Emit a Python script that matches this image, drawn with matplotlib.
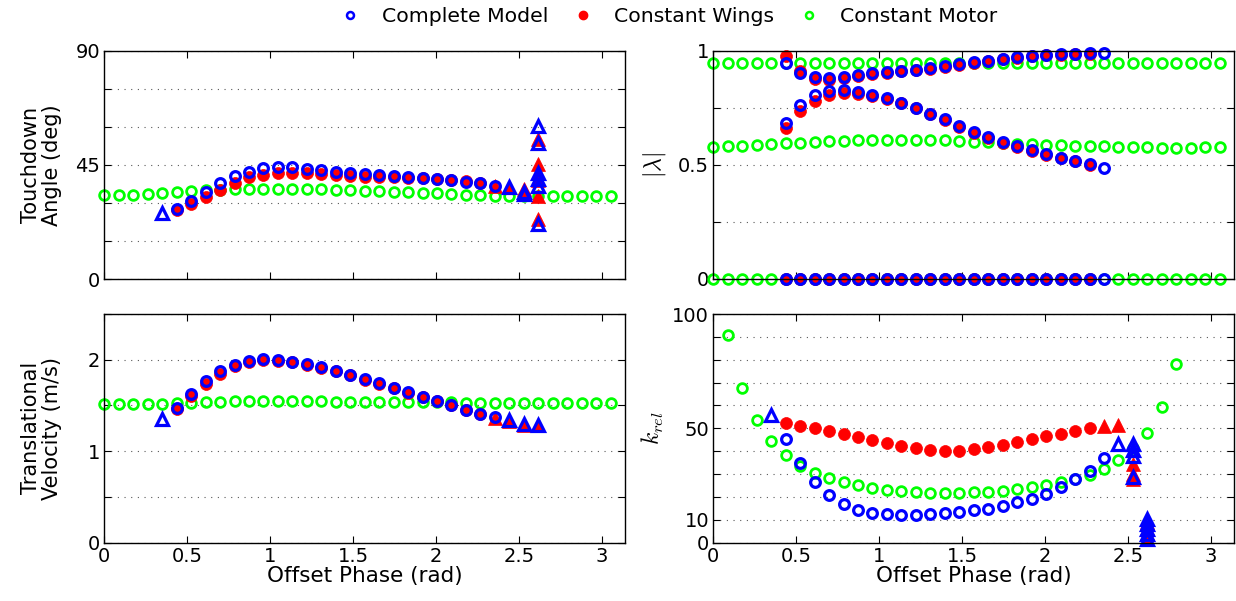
import numpy as np
import matplotlib
matplotlib.use('Agg')
import matplotlib.pyplot as plt
from matplotlib.lines import Line2D

plt.rcParams['font.family'] = ['DejaVu Sans']
plt.rcParams['mathtext.fontset'] = 'cm'

# offset phase grid: index k -> k * pi / 36
step = np.pi / 36

# ---- touchdown angle (deg) ----
green_angle = [33.1, 33.1, 33.3, 33.5, 33.8, 34.2, 34.7, 35.1, 35.2, 35.4, 35.5, 35.5,
               35.6, 35.6, 35.5, 35.4, 35.2, 35.1, 34.8, 34.7, 34.4, 34.2, 33.9, 33.8,
               33.5, 33.3, 33.1, 32.9, 32.7, 32.6, 32.6, 32.6, 32.6, 32.6, 32.7, 32.7]
blue_angle = [27.6, 30.8, 34.2, 37.9, 40.5, 42.4, 43.7, 44.1, 44.1, 43.6, 42.9, 42.1,
              41.7, 41.4, 40.9, 40.5, 40.1, 39.9, 39.6, 39.1, 38.4, 37.8, 36.6]  # k=5..27
blue_angle_tri_k = [4, 28, 29, 29, 30, 30, 30, 30, 30, 30]
blue_angle_tri = [25.9, 36.2, 34.5, 33.6, 60.2, 53.6, 41.7, 39.5, 36.6, 21.7]
red_angle = [27.3, 29.6, 32.5, 35.2, 38.1, 40.1, 41.2, 41.7, 42.0, 41.7, 41.4, 40.9,
             40.5, 40.2, 40.1, 40.1, 40.0, 39.7, 39.4, 39.0, 38.6, 37.9]  # k=5..26
red_angle_tri_k = [27, 28, 29, 29, 30, 30, 30, 30, 30, 30]
red_angle_tri = [36.9, 36.2, 35.5, 34.0, 55.3, 45.5, 42.0, 39.0, 32.9, 23.9]

# ---- |lambda| ----
green_lam_hi = [0.946] * 36
green_lam_mid = [0.578, 0.581, 0.584, 0.587, 0.590, 0.594, 0.597, 0.600, 0.603, 0.606,
                 0.607, 0.609, 0.610, 0.610, 0.610, 0.609, 0.607, 0.604, 0.601, 0.598,
                 0.595, 0.592, 0.590, 0.587, 0.585, 0.584, 0.582, 0.581, 0.580, 0.578,
                 0.577, 0.575, 0.575, 0.575, 0.577, 0.578]
green_lam_lo = [0.0] * 36
blue_lam_hi = [0.946, 0.904, 0.884, 0.879, 0.886, 0.895, 0.902, 0.908, 0.913, 0.917,
               0.924, 0.932, 0.942, 0.949, 0.956, 0.964, 0.971, 0.977, 0.981, 0.984,
               0.986, 0.988, 0.988]  # k=5..27
blue_lam_mid = [0.683, 0.760, 0.807, 0.823, 0.828, 0.818, 0.807, 0.792, 0.771, 0.750,
                0.723, 0.699, 0.669, 0.643, 0.622, 0.600, 0.581, 0.563, 0.546, 0.531,
                0.517, 0.502, 0.486]
blue_lam_lo = [0.0] * 23
red_lam_hi = [0.978, 0.910, 0.876, 0.872, 0.880, 0.889, 0.897, 0.903, 0.909, 0.914,
              0.921, 0.929, 0.939, 0.947, 0.954, 0.962, 0.969, 0.975, 0.980, 0.983,
              0.985, 0.987]  # k=5..26
red_lam_mid = [0.663, 0.735, 0.779, 0.808, 0.815, 0.812, 0.803, 0.789, 0.769, 0.748,
               0.721, 0.695, 0.665, 0.640, 0.617, 0.596, 0.578, 0.561, 0.544, 0.529,
               0.515, 0.500]
red_lam_lo = [0.0] * 22

# ---- translational velocity (m/s) ----
green_vel = [1.52, 1.52, 1.52, 1.52, 1.52, 1.525, 1.53, 1.535, 1.54, 1.545, 1.545, 1.545,
             1.545, 1.545, 1.545, 1.545, 1.54, 1.54, 1.54, 1.54, 1.54, 1.535, 1.535, 1.535,
             1.535, 1.53, 1.53, 1.53, 1.53, 1.53, 1.53, 1.53, 1.53, 1.53, 1.53, 1.53]
blue_vel = [1.473, 1.63, 1.768, 1.878, 1.947, 1.987, 2.005, 1.994, 1.976, 1.951, 1.918,
            1.878, 1.834, 1.787, 1.74, 1.692, 1.645, 1.597, 1.553, 1.506, 1.455, 1.408,
            1.368]  # k=5..27
blue_vel_tri_k = [4, 28, 29, 30]
blue_vel_tri = [1.349, 1.339, 1.295, 1.288]
red_vel = [1.462, 1.601, 1.733, 1.849, 1.935, 1.976, 1.994, 1.99, 1.97, 1.945, 1.913,
           1.873, 1.83, 1.782, 1.735, 1.687, 1.64, 1.592, 1.548, 1.5, 1.45, 1.403]  # k=5..26
red_vel_tri_k = [27, 28, 29, 30]
red_vel_tri = [1.36, 1.335, 1.29, 1.283]

# ---- k_rel ----
green_k = [91.0, 67.6, 53.5, 44.5, 38.4, 33.7, 30.5, 28.2, 26.5, 25.1, 23.8, 23.1, 22.5,
           22.1, 21.8, 21.7, 21.7, 21.9, 22.2, 22.7, 23.3, 24.1, 25.3, 26.6, 27.9, 29.5,
           32.3, 35.9, 41.5, 48.0, 59.2, 78.1]  # k=1..32
blue_k = [45.1, 34.7, 26.7, 20.9, 17.0, 14.4, 13.1, 12.5, 12.2, 12.2, 12.4, 12.9, 13.4,
          14.1, 14.8, 16.1, 17.6, 19.2, 21.4, 24.3, 27.6, 31.5, 37.1]  # k=5..27
blue_k_tri_k = [4, 28, 29, 29, 29, 29, 30, 30, 30, 30, 30]
blue_k_tri = [56.0, 43.2, 43.2, 40.3, 37.8, 28.6, 10.5, 8.3, 6.1, 3.9, 1.7]
red_k = [52.3, 51.2, 50.1, 48.7, 47.4, 46.1, 44.9, 43.6, 42.4, 41.4, 40.6, 40.1, 40.1,
         40.8, 41.6, 42.7, 43.9, 45.3, 46.7, 47.7, 48.7, 50.1]  # k=5..26
red_k_tri_k = [27, 28, 29, 29, 29, 30, 30, 30, 30]
red_k_tri = [51.2, 51.5, 34.4, 30.1, 28.0, 9.0, 6.5, 4.0, 1.5]

BLUE, RED, GREEN = (0, 0, 1), (1, 0, 0), (0, 1, 0)


def ph(start, vals):
    return (start + np.arange(len(vals))) * step


def green_c(ax, start, vals):
    ax.plot(ph(start, vals), vals, 'o', mfc='none', mec=GREEN, ms=7, mew=2, clip_on=False)


def red_c(ax, start, vals):
    ax.plot(ph(start, vals), vals, 'o', mfc=RED, mec=RED, ms=8.6, mew=0.5, clip_on=False)


def blue_c(ax, start, vals):
    ax.plot(ph(start, vals), vals, 'o', mfc='none', mec=BLUE, ms=7, mew=2.3, clip_on=False)


def red_t(ax, ks, vals):
    ax.plot(np.array(ks) * step, vals, '^', mfc=RED, mec=RED, ms=10, mew=0.5, clip_on=False)


def blue_t(ax, ks, vals):
    ax.plot(np.array(ks) * step, vals, '^', mfc='none', mec=BLUE, ms=8.5, mew=2.3, clip_on=False)


def style(ax, yticks, ylabels, ymax, xlabels):
    ax.set_xlim(0, np.pi)
    ax.set_ylim(0, ymax)
    ax.set_xticks(np.arange(0, 3.01, 0.5))
    if xlabels:
        ax.set_xticklabels(['0', '0.5', '1', '1.5', '2', '2.5', '3'])
        ax.set_xlabel('Offset Phase (rad)', fontsize=15.5, labelpad=0)
    else:
        ax.set_xticklabels([])
    ax.set_yticks(yticks)
    ax.set_yticklabels(ylabels)
    ax.tick_params(direction='in', top=True, right=True, length=5, width=0.8,
                   labelsize=14, pad=3)
    ax.grid(axis='y', linestyle=(0, (1, 5)), color='0.35', linewidth=0.8)
    ax.set_axisbelow(True)
    for s in ax.spines.values():
        s.set_linewidth(1.0)


fig = plt.figure(figsize=(12.36, 6.01), dpi=100)
ax_a = fig.add_axes([0.0844, 0.5353, 0.4213, 0.3804])
ax_l = fig.add_axes([0.5771, 0.5358, 0.4215, 0.3799])
ax_v = fig.add_axes([0.0844, 0.0973, 0.4213, 0.3802])
ax_k = fig.add_axes([0.5771, 0.0973, 0.4215, 0.3802])

# touchdown angle
green_c(ax_a, 0, green_angle)
red_c(ax_a, 5, red_angle)
red_t(ax_a, red_angle_tri_k, red_angle_tri)
blue_c(ax_a, 5, blue_angle)
blue_t(ax_a, blue_angle_tri_k, blue_angle_tri)
style(ax_a, np.arange(0, 91, 15), ['0', '', '', '45', '', '', '90'], 90, False)
ax_a.set_ylabel('Touchdown\nAngle (deg)', fontsize=15, linespacing=1.05)
ax_a.yaxis.set_label_coords(-0.081, 0.5)

# |lambda|
for vals in (green_lam_hi, green_lam_mid, green_lam_lo):
    green_c(ax_l, 0, vals)
for vals in (red_lam_hi, red_lam_mid, red_lam_lo):
    red_c(ax_l, 5, vals)
for vals in (blue_lam_hi, blue_lam_mid, blue_lam_lo):
    blue_c(ax_l, 5, vals)
style(ax_l, [0, 0.25, 0.5, 0.75, 1], ['0', '', '0.5', '', '1'], 1, False)
ax_l.set_ylabel(r'$|\lambda|$', fontsize=17)
ax_l.yaxis.set_label_coords(-0.087, 0.5)

# velocity
green_c(ax_v, 0, green_vel)
red_c(ax_v, 5, red_vel)
red_t(ax_v, red_vel_tri_k, red_vel_tri)
blue_c(ax_v, 5, blue_vel)
blue_t(ax_v, blue_vel_tri_k, blue_vel_tri)
style(ax_v, [0, 0.5, 1, 1.5, 2, 2.5], ['0', '', '1', '', '2', ''], 2.5, True)
ax_v.set_ylabel('Translational\nVelocity (m/s)', fontsize=15, linespacing=1.05)
ax_v.yaxis.set_label_coords(-0.081, 0.5)

# k_rel
green_c(ax_k, 1, green_k)
red_c(ax_k, 5, red_k)
red_t(ax_k, red_k_tri_k, red_k_tri)
blue_c(ax_k, 5, blue_k)
blue_t(ax_k, blue_k_tri_k, blue_k_tri)
klabels = ['0', '10', '', '', '', '50', '', '', '', '', '100']
style(ax_k, np.arange(0, 101, 10), klabels, 100, True)
ax_k.set_ylabel(r'$k_{rel}$', fontsize=17)
ax_k.yaxis.set_label_coords(-0.09, 0.5)

handles = [
    Line2D([], [], ls='none', marker='o', mfc='none', mec=BLUE, ms=5, mew=1.8),
    Line2D([], [], ls='none', marker='o', mfc=RED, mec=RED, ms=6),
    Line2D([], [], ls='none', marker='o', mfc='none', mec=GREEN, ms=5, mew=1.8),
]
fig.legend(handles, ['Complete Model', 'Constant Wings', 'Constant Motor'],
           loc='center', bbox_to_anchor=(0.541, 0.972), ncol=3, frameon=False,
           fontsize=14.7, handlelength=1.0, handletextpad=1.03, columnspacing=1.2)

fig.savefig('out.png', dpi=100)
